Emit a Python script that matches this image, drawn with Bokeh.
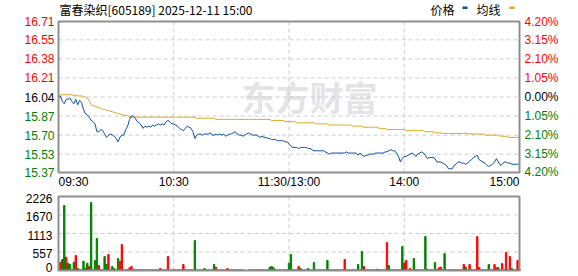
from bokeh.plotting import figure
from bokeh.models import Range1d, ColumnDataSource
from bokeh.core.properties import value
from bokeh.embed import file_html
from bokeh.resources import INLINE

title_text = "富春染织[605189] 2025-12-11 15:00"
legend_labels = ["价格", "均线"]
watermark_text = "东方财富"
prev_close = 16.04
price_ticks = [16.71, 16.55, 16.38, 16.21, 16.04, 15.87, 15.70, 15.53, 15.37]
price_tick_labels = ["16.71", "16.55", "16.38", "16.21", "16.04", "15.87", "15.70", "15.53", "15.37"]
pct_tick_labels = ["4.20%", "3.15%", "2.10%", "1.05%", "0.00%", "1.05%", "2.10%", "3.15%", "4.20%"]
time_ticks = [0, 60, 120, 180, 240]
time_labels = ["09:30", "10:30", "11:30/13:00", "14:00", "15:00"]
vol_ticks = [2226, 1670, 1113, 557, 0]
vol_tick_labels = ["2226", "1670", "1113", "557", "0"]

price = [
    16.03, 16.05, 16.00, 15.98, 16.02, 16.02, 16.03, 16.00, 15.98, 16.02,
    15.97, 16.01, 15.99, 15.93, 15.89, 15.88, 15.86, 15.83, 15.82, 15.80,
    15.73, 15.73, 15.75, 15.74, 15.71, 15.68, 15.70, 15.71, 15.70, 15.69,
    15.67, 15.64, 15.68, 15.70, 15.70, 15.75, 15.78, 15.84, 15.87, 15.87,
    15.85, 15.82, 15.81, 15.79, 15.76, 15.78, 15.77, 15.78, 15.77, 15.79,
    15.78, 15.79, 15.80, 15.79, 15.80, 15.79, 15.82, 15.83, 15.82, 15.80,
    15.80, 15.79, 15.78, 15.76, 15.75, 15.74, 15.76, 15.78, 15.77, 15.76,
    15.73, 15.67, 15.70, 15.71, 15.71, 15.70, 15.71, 15.71, 15.71, 15.72,
    15.70, 15.70, 15.71, 15.70, 15.71, 15.70, 15.71, 15.69, 15.70, 15.71,
    15.71, 15.72, 15.73, 15.71, 15.70, 15.70, 15.69, 15.70, 15.71, 15.72,
    15.71, 15.70, 15.70, 15.70, 15.69, 15.68, 15.69, 15.68, 15.68, 15.67,
    15.67, 15.66, 15.66, 15.66, 15.65, 15.65, 15.65, 15.65, 15.64, 15.64,
    15.62, 15.60, 15.59, 15.59, 15.59, 15.58, 15.59, 15.59, 15.59, 15.59,
    15.58, 15.58, 15.57, 15.56, 15.56, 15.56, 15.56, 15.56, 15.56, 15.55,
    15.54, 15.53, 15.54, 15.54, 15.54, 15.54, 15.54, 15.54, 15.54, 15.54,
    15.55, 15.54, 15.54, 15.54, 15.54, 15.54, 15.52, 15.54, 15.52, 15.51,
    15.52, 15.52, 15.53, 15.53, 15.53, 15.54, 15.54, 15.54, 15.54, 15.54,
    15.55, 15.55, 15.56, 15.57, 15.56, 15.56, 15.54, 15.51, 15.46, 15.49,
    15.51, 15.51, 15.52, 15.53, 15.54, 15.53, 15.51, 15.53, 15.54, 15.55,
    15.54, 15.52, 15.49, 15.50, 15.50, 15.50, 15.49, 15.46, 15.46, 15.46,
    15.45, 15.44, 15.43, 15.40, 15.40, 15.40, 15.43, 15.44, 15.46, 15.46,
    15.45, 15.45, 15.44, 15.45, 15.47, 15.48, 15.50, 15.51, 15.52, 15.48,
    15.47, 15.46, 15.45, 15.43, 15.42, 15.43, 15.44, 15.46, 15.49, 15.46,
    15.43, 15.44, 15.46, 15.46, 15.45, 15.45, 15.44, 15.44, 15.44, 15.44,
    15.44,
]

avg_price = [
    16.04, 16.06, 16.06, 16.06, 16.06, 16.06, 16.06, 16.06, 16.055, 16.055,
    16.05, 16.05, 16.05, 16.045, 16.04, 16.03, 16.01, 15.97, 15.96, 15.96,
    15.95, 15.95, 15.94, 15.93, 15.93, 15.92, 15.92, 15.91, 15.91, 15.90,
    15.90, 15.89, 15.89, 15.88, 15.88, 15.875, 15.875, 15.86, 15.86, 15.86,
    15.86, 15.86, 15.86, 15.86, 15.86, 15.86, 15.86, 15.86, 15.86, 15.86,
    15.86, 15.86, 15.86, 15.86, 15.86, 15.86, 15.86, 15.86, 15.86, 15.86,
    15.86, 15.86, 15.86, 15.86, 15.86, 15.86, 15.86, 15.86, 15.86, 15.86,
    15.86, 15.86, 15.85, 15.85, 15.85, 15.85, 15.85, 15.85, 15.85, 15.85,
    15.85, 15.85, 15.84, 15.84, 15.84, 15.84, 15.84, 15.84, 15.84, 15.84,
    15.84, 15.84, 15.84, 15.84, 15.84, 15.84, 15.84, 15.84, 15.84, 15.84,
    15.84, 15.84, 15.84, 15.84, 15.84, 15.84, 15.84, 15.84, 15.84, 15.84,
    15.84, 15.83, 15.83, 15.83, 15.83, 15.83, 15.83, 15.83, 15.82, 15.82,
    15.82, 15.82, 15.82, 15.82, 15.81, 15.81, 15.81, 15.81, 15.81, 15.81,
    15.81, 15.81, 15.81, 15.81, 15.80, 15.80, 15.80, 15.80, 15.80, 15.80,
    15.80, 15.79, 15.79, 15.79, 15.79, 15.79, 15.79, 15.79, 15.79, 15.79,
    15.79, 15.79, 15.79, 15.78, 15.78, 15.78, 15.78, 15.78, 15.78, 15.77,
    15.77, 15.77, 15.77, 15.77, 15.77, 15.77, 15.77, 15.76, 15.76, 15.76,
    15.76, 15.75, 15.75, 15.75, 15.75, 15.75, 15.75, 15.75, 15.75, 15.75,
    15.75, 15.74, 15.74, 15.74, 15.74, 15.74, 15.74, 15.74, 15.74, 15.74,
    15.74, 15.73, 15.73, 15.73, 15.73, 15.73, 15.72, 15.72, 15.72, 15.72,
    15.715, 15.715, 15.715, 15.715, 15.715, 15.715, 15.715, 15.715, 15.715, 15.715,
    15.715, 15.715, 15.715, 15.715, 15.71, 15.71, 15.71, 15.71, 15.71, 15.71,
    15.71, 15.71, 15.70, 15.70, 15.70, 15.70, 15.70, 15.70, 15.70, 15.70,
    15.69, 15.69, 15.69, 15.69, 15.68, 15.68, 15.68, 15.68, 15.68, 15.68,
    15.68,
]

volume = [
    0, 250, 330, 1955, 400, 220, 180, 30, 250, 450,
    60, 20, 20, 280, 60, 220, 120, 2045, 20, 300,
    960, 150, 20, 20, 420, 180, 480, 20, 120, 60,
    20, 360, 280, 780, 20, 20, 20, 80, 120, 20,
    20, 20, 20, 20, 20, 20, 20, 20, 20, 20,
    20, 20, 20, 60, 20, 20, 20, 420, 20, 20,
    20, 20, 20, 20, 20, 180, 20, 20, 20, 20,
    20, 900, 20, 20, 20, 20, 60, 20, 20, 20,
    20, 180, 100, 20, 20, 20, 20, 20, 60, 20,
    20, 20, 20, 20, 20, 20, 20, 0, 0, 20,
    20, 20, 20, 20, 20, 20, 20, 20, 20, 20,
    100, 120, 80, 20, 20, 20, 20, 20, 20, 20,
    220, 480, 20, 20, 20, 120, 60, 20, 20, 20,
    60, 20, 20, 240, 20, 20, 20, 20, 20, 20,
    300, 20, 20, 20, 20, 20, 20, 20, 20, 330,
    20, 20, 20, 20, 20, 20, 180, 20, 570, 120,
    20, 20, 20, 20, 20, 20, 40, 20, 20, 20,
    20, 840, 150, 20, 20, 20, 20, 20, 20, 720,
    220, 300, 20, 60, 20, 360, 20, 20, 20, 20,
    20, 1020, 40, 20, 20, 20, 240, 30, 80, 100,
    20, 510, 20, 20, 20, 20, 20, 20, 20, 20,
    20, 180, 100, 20, 180, 20, 20, 20, 1020, 90,
    20, 20, 20, 20, 180, 20, 20, 180, 80, 90,
    20, 210, 20, 540, 20, 420, 60, 20, 20, 300,
    20,
]

vol_dir = list(
    "uudduddudu" "duddddudud" "duuddduudd" "uduuddduud" "dduududuuu"
    "uuuudddudd" "dddduuuudd" "dddddddddd" "dduuuuuuuu" "uuuuuuuuud"
    "ddddddduuu" "ddduuuuuuu" "dduuuuduuu" "dudduuuuuu" "duuuuuuuuu"
    "uddddddudu" "uuuuuuuuuu" "uudduudddd" "uuuudduuuu" "uddddudduu"
    "dddddduuuu" "uuduuuuuuu" "ddddduuuud" "uuuududuuu" "u"
)

# ---------------- styles ----------------
RED = "#ff0000"
GREEN = "#008000"
BLACK = "#000000"
BLUE = "#0c4fa3"
GOLD = "#dea41e"
GRID = "#cccccc"
FRAME = "#8f8f8f"
NUM_FONT = value("Liberation Sans")
CJK_FONT = value("Noto Sans CJK SC")
FS = "12px"

# canvas geometry (pixels)
W, H = 578, 276
FL, FR = 58, 519          # plot box left / right
PT, PB = 21, 172          # price box top / bottom
VT, VB = 196, 270         # volume box top / bottom

n_last = len(price) - 1
lo = prev_close * (1 - 0.042)
hi = prev_close * (1 + 0.042)
vmax = vol_ticks[0]

ux = n_last / (FR - FL)          # index units per pixel
uy = (hi - lo) / (PB - PT)        # price units per pixel
uv = vmax / (VB - VT)             # volume units per pixel


def yp(row):  # canvas pixel row -> price coordinate
    return hi + (PT - row) * uy


def yv(row):  # canvas pixel row -> volume coordinate
    return vmax + (VT - row) * uv


def xp(col):  # canvas pixel column -> index coordinate
    return (col - FL) * ux


def tick_color(v):
    if v > prev_close + 1e-9:
        return RED
    if v < prev_close - 1e-9:
        return GREEN
    return BLACK


p = figure(width=W, height=H, output_backend="svg", toolbar_location=None,
           x_axis_location=None, y_axis_location=None,
           x_range=Range1d(xp(0), xp(W)), y_range=Range1d(yp(H), yp(0)),
           min_border=0, min_border_left=0, min_border_right=0,
           min_border_top=0, min_border_bottom=0)
p.title.text = ""
p.grid.visible = False
p.outline_line_color = None
p.background_fill_color = "white"
p.border_fill_color = "white"
p.extra_y_ranges = {"vol": Range1d(yv(H), yv(0))}

# watermark
p.text(x=[xp(309)], y=[yp(96)], text=[watermark_text], text_font=CJK_FONT,
       text_font_size="34px", text_font_style="bold", text_color="#e4e4e8",
       text_align="center", text_baseline="middle")

# grids (price)
inner_t = time_ticks[1:-1]
p.segment(x0=inner_t, y0=lo, x1=inner_t, y1=hi, line_color=GRID, line_dash="4 3", line_width=1)
inner_p = price_ticks[1:-1]
p.segment(x0=0, y0=inner_p, x1=n_last, y1=inner_p, line_color=GRID, line_dash="4 3", line_width=1)
# grids (volume)
p.segment(x0=inner_t, y0=0, x1=inner_t, y1=vmax, line_color=GRID, line_dash="4 3",
          line_width=1, y_range_name="vol")
inner_v = vol_ticks[1:-1]
p.segment(x0=0, y0=inner_v, x1=n_last, y1=inner_v, line_color=GRID, line_dash="4 3",
          line_width=1, y_range_name="vol")

# series
idx = list(range(len(price)))
p.line(idx, avg_price, line_color=GOLD, line_width=1)
p.line(idx, price, line_color=BLUE, line_width=1)

vsrc = ColumnDataSource(dict(x=idx, top=volume,
                             color=[RED if d == "u" else GREEN for d in vol_dir]))
p.vbar(x="x", top="top", bottom=0, width=0.7, color="color", source=vsrc, y_range_name="vol")

# boxes
p.quad(left=0, right=n_last, bottom=lo, top=hi, fill_color=None, line_color=FRAME, line_width=2)
p.quad(left=0, right=n_last, bottom=0, top=vmax, fill_color=None, line_color=FRAME,
       line_width=2, y_range_name="vol")

# price axis labels
lsrc = ColumnDataSource(dict(y=price_ticks, text=price_tick_labels, pct=pct_tick_labels,
                             color=[tick_color(v) for v in price_ticks]))
p.text(x=0, y="y", text="text", source=lsrc, x_offset=-4, text_align="right",
       text_baseline="middle", text_color="color", text_font=NUM_FONT, text_font_size=FS)
p.text(x=n_last, y="y", text="pct", source=lsrc, x_offset=5, text_align="left",
       text_baseline="middle", text_color="color", text_font=NUM_FONT, text_font_size=FS)

# time labels
tsrc = ColumnDataSource(dict(x=time_ticks, text=time_labels,
                             align=["left", "center", "center", "center", "right"]))
p.text(x="x", y=yp(181), text="text", source=tsrc, text_align="align",
       text_baseline="middle", text_color=BLACK, text_font=NUM_FONT, text_font_size=FS)

# volume labels (placed slightly below their tick, kept inside the canvas)
vl_rows = [min(VB - t / uv + 2, VB - 3) for t in vol_ticks]
vsrc2 = ColumnDataSource(dict(y=[yv(r) for r in vl_rows], text=vol_tick_labels))
p.text(x=0, y="y", text="text", source=vsrc2, x_offset=-6, text_align="right",
       text_baseline="middle", text_color=BLACK, text_font=NUM_FONT, text_font_size=FS,
       y_range_name="vol")

# title
p.text(x=[0], y=[yp(9)], text=[title_text], x_offset=1, text_align="left",
       text_baseline="middle", text_color=BLACK, text_font=CJK_FONT, text_font_size=FS)

# legend
p.text(x=[xp(454), xp(500)], y=yp(9), text=legend_labels, text_align="right",
       text_baseline="middle", text_color=BLACK, text_font=CJK_FONT, text_font_size=FS)
p.quad(left=[xp(462), xp(509)], right=[xp(467), xp(514)], bottom=yp(8.5), top=yp(6),
       fill_color=[BLUE, GOLD], line_color=None)

open("out.html", "w").write(file_html(p, INLINE))
